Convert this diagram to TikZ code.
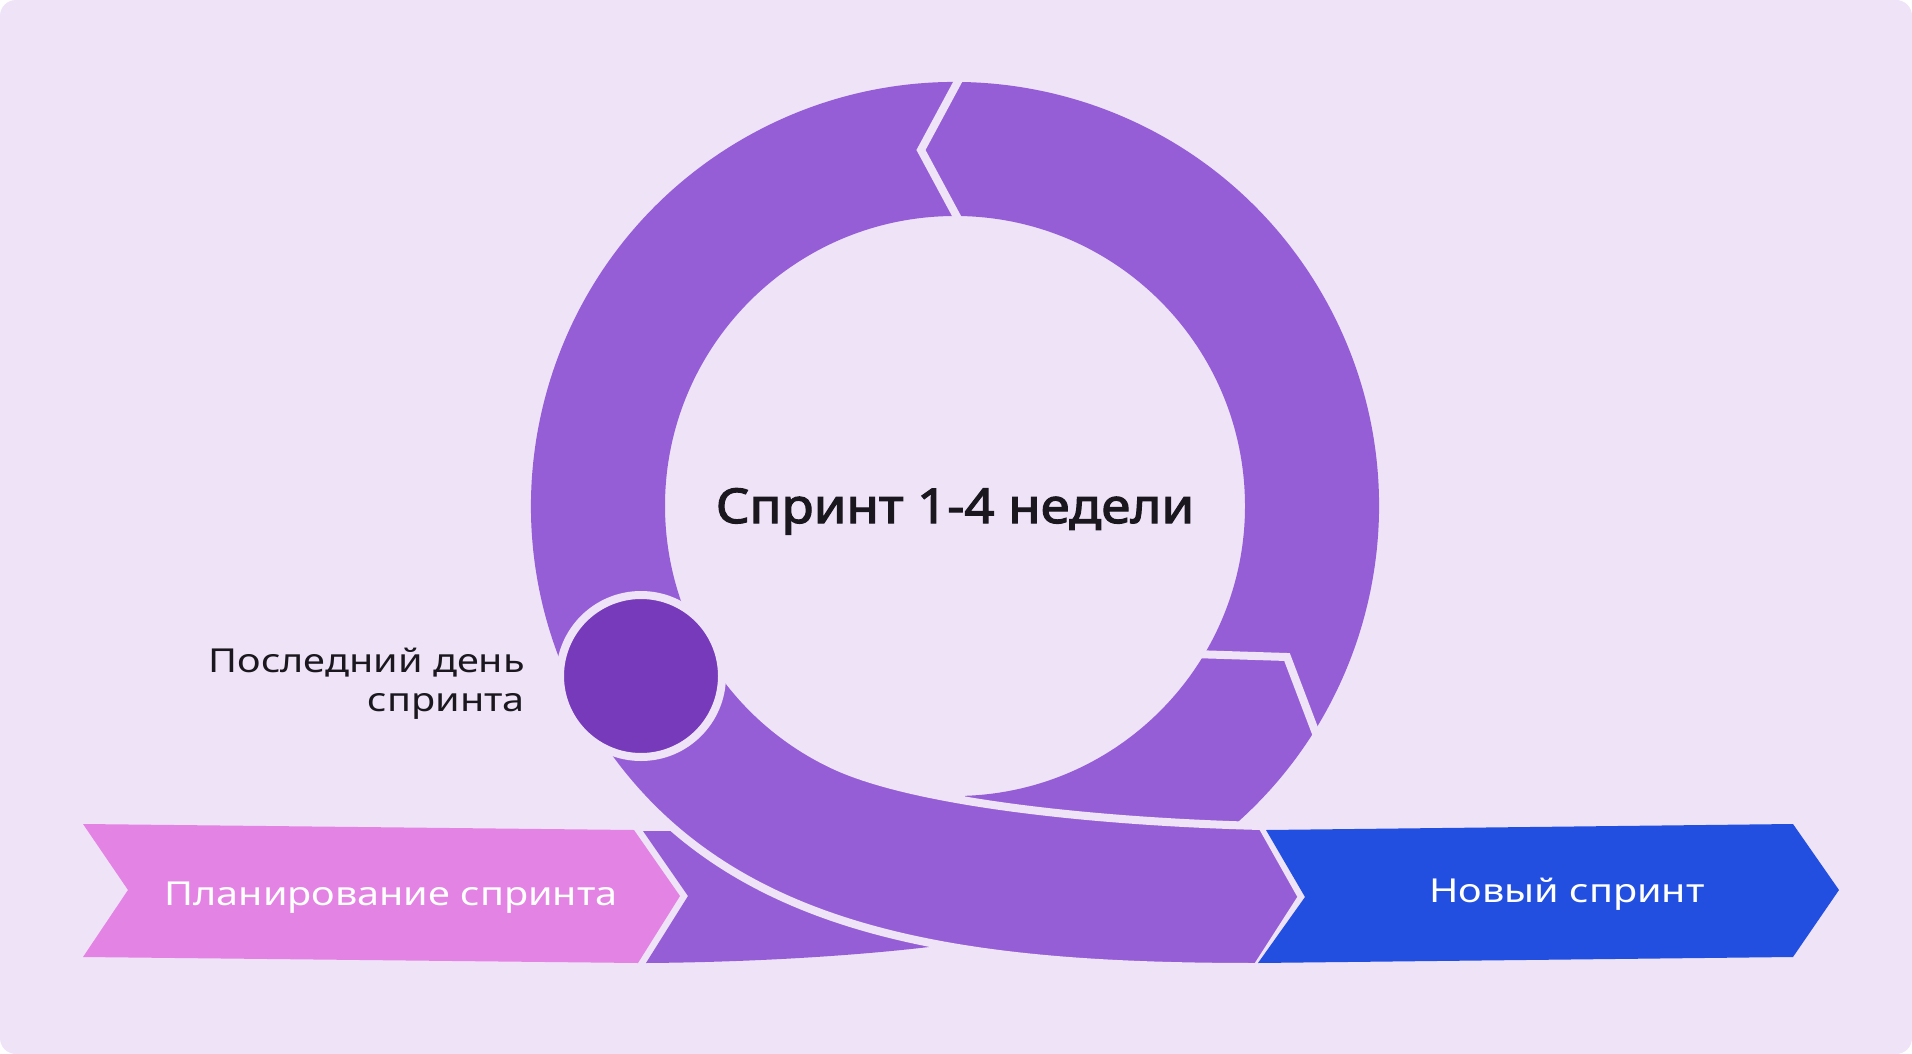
\documentclass[tikz,border=0pt]{standalone}
\usepackage{fontspec}
\setmainfont{Noto Sans}[FakeStretch=1.2]
\newfontfamily\ttlfont{Noto Sans}[FakeStretch=1.1,FakeBold=2.5]
\definecolor{bgc}{RGB}{239,227,248}
\definecolor{ringc}{RGB}{150,94,214}
\definecolor{darkc}{RGB}{118,58,186}
\definecolor{pinkc}{RGB}{227,131,227}
\definecolor{bluec}{RGB}{34,79,224}
\definecolor{textc}{RGB}{26,24,30}
\begin{document}
\begin{tikzpicture}[x=1pt,y=-1pt,
  gapline/.style={draw=bgc,line width=8pt,line join=miter},
  ringfill/.style={fill=ringc},
  lbl/.style={text=textc,font=\fontsize{33}{40}\selectfont,inner sep=0pt},
  wlbl/.style={text=white,font=\fontsize{33}{40}\selectfont,inner sep=0pt},
  ttl/.style={text=textc,font=\ttlfont\fontsize{48}{56}\selectfont,inner sep=0pt}]
\fill[white] (0,0) rectangle (1912,1054);
\fill[bgc,rounded corners=16pt] (0,0) rectangle (1912,1054);
\useasboundingbox (0,0) rectangle (1912,1054);
\coordinate (C) at (955,506);
% ring (left, right and lower-right pieces)
\fill[ringfill] ([shift={(150:424)}]C) arc[start angle=150,end angle=448,radius=424]
  -- ([shift={(88:290)}]C) arc[start angle=448,end angle=150,radius=290] -- cycle;
% incoming piece
\fill[ringfill] (643,831) -- (760,831) -- (1010,935) .. controls (920,952) and (780,962) .. (646,963) -- (688,896) -- cycle;
% swoosh
\path[ringfill,gapline] ([shift={(155:286)}]C) arc[start angle=155,end angle=115,radius=286]
  .. controls (915.7,803.3) and (1100,822) .. (1262,826) -- (1302,897) -- (1257,967)
  .. controls (987,967) and (762,942) .. ([shift={(140:428)}]C)
  arc[start angle=140,end angle=155,radius=428] -- cycle;
% arrows
\fill[pinkc] (83,824) -- (634,830) -- (680,896) -- (638,963) -- (83,957) -- (128,890) -- cycle;
\fill[bluec] (1266,830) -- (1793,824) -- (1839,890) -- (1793,957) -- (1258,963) -- (1305,897) -- cycle;
% cuts
\draw[gapline] (963,72) -- (921,150) -- (963,228);
\draw[gapline] (1193,654) -- (1287,657) -- (1320,744);
% last day dot
\node[circle,inner sep=0pt,minimum size=162pt,fill=darkc,draw=bgc,line width=8pt] (dot) at (641,676) {};
% texts
\node[ttl,anchor=base] (title) at (955,523) {Спринт 1-4 недели};
\node[lbl,anchor=base east] (last1) at (525,672) {Последний день};
\node[lbl,anchor=base east] (last2) at (525,711) {спринта};
\node[wlbl,anchor=base] (plan) at (391,905) {Планирование спринта};
\node[wlbl,anchor=base] (new) at (1567,902) {Новый спринт};
\end{tikzpicture}
\end{document}
